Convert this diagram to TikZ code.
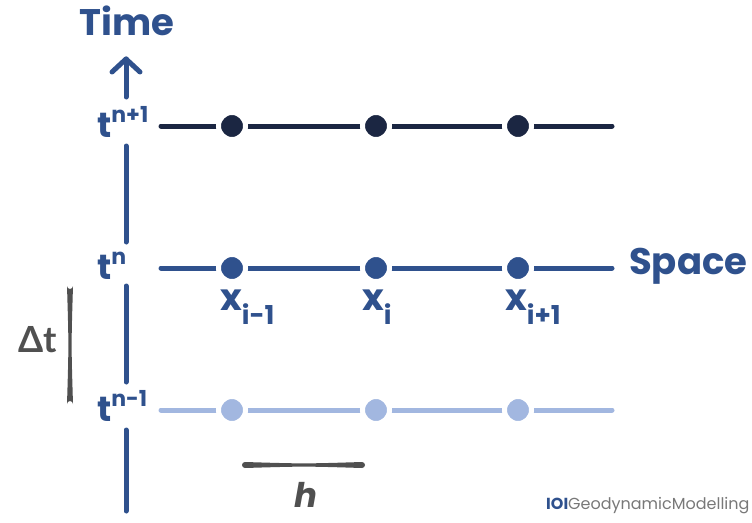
\documentclass[tikz,border=0pt]{standalone}
\usepackage{fontspec}
\setmainfont{Poppins}
\newfontfamily\latofont{Lato}
\definecolor{mblue}{RGB}{47,81,141}
\definecolor{navy}{RGB}{27,38,66}
\definecolor{lblue}{RGB}{162,183,224}
\definecolor{dgray}{RGB}{80,80,80}
\definecolor{wgray}{RGB}{120,120,120}
\begin{document}
\begin{tikzpicture}[x=1pt,y=-1pt,
  axisline/.style={mblue,line width=5pt,line cap=round},
  gridline/.style={line width=5pt,line cap=round},
  dot/.style={circle,minimum size=27pt,inner sep=0pt,draw=white,line width=5pt},
  tlab/.style={mblue,font=\bfseries\fontsize{35}{35}\selectfont,inner sep=0pt},
  xlab/.style={mblue,font=\bfseries\fontsize{37}{37}\selectfont,inner sep=0pt},
  bigword/.style={mblue,font=\bfseries\fontsize{37}{37}\selectfont,inner sep=0pt}]
\useasboundingbox (0,0) rectangle (752,522);
% title labels
\node[bigword] (time) at (127,21) {Time};
\node[bigword,anchor=west] (space) at (629,266) {Space};
% time axis
\coordinate (arrbase) at (126,97);
\coordinate (arrtip) at (126,59);
\draw[axisline,line join=round] (arrbase) -- (arrtip);
\draw[axisline,line join=round] (112,72) -- (arrtip) -- (140,72);
\coordinate (a1) at (126,146); \coordinate (a2) at (126,242);
\coordinate (a3) at (126,286); \coordinate (a4) at (126,382);
\coordinate (a5) at (126,430); \coordinate (a6) at (126,511);
\draw[axisline] (a1) -- (a2);
\draw[axisline] (a3) -- (a4);
\draw[axisline] (a5) -- (a6);
% time labels
\node[tlab,anchor=base west] (tnp) at (97,137) {t\raisebox{0.42em}{\fontsize{22}{22}\selectfont n+1}};
\node[tlab,anchor=base west] (tn) at (97,279) {t\raisebox{0.42em}{\fontsize{22}{22}\selectfont n}};
\node[tlab,anchor=base west] (tnm) at (97,421) {t\raisebox{0.42em}{\fontsize{22}{22}\selectfont n-1}};
% grid lines
\coordinate (l1s) at (161,126); \coordinate (l1e) at (612,126);
\coordinate (l2s) at (161,268); \coordinate (l2e) at (612,268);
\coordinate (l3s) at (161,410); \coordinate (l3e) at (612,410);
\draw[gridline,navy] (l1s) -- (l1e);
\draw[gridline,mblue] (l2s) -- (l2e);
\draw[gridline,lblue] (l3s) -- (l3e);
\foreach \x/\n in {232/a,376/b,518/c}{
  \node[dot,fill=navy] (d1\n) at (\x,126) {};
  \node[dot,fill=mblue] (d2\n) at (\x,268) {};
  \node[dot,fill=lblue] (d3\n) at (\x,410) {};
}
% x labels
\node[xlab,anchor=base west] (xa) at (220,310) {x\raisebox{-0.4em}{\fontsize{26}{26}\selectfont i-1}};
\node[xlab,anchor=base west] (xb) at (362,310) {x\raisebox{-0.4em}{\fontsize{26}{26}\selectfont i}};
\node[xlab,anchor=base west] (xc) at (505,310) {x\raisebox{-0.4em}{\fontsize{26}{26}\selectfont i+1}};
% delta t bracket
\fill[dgray] (67,286) .. controls (68.8,345) .. (67,404) arc[start angle=180,end angle=360,radius=3]
  .. controls (71.2,345) .. (73,286) arc[start angle=0,end angle=180,radius=3] -- cycle;
\node[dgray,font=\latofont\bfseries\fontsize{36}{36}\selectfont,inner sep=0pt] (dt) at (38,340) {Δt};
% h bracket
\fill[dgray] (245,462) .. controls (304,463.8) .. (362,462) arc[start angle=-90,end angle=90,radius=3]
  .. controls (304,466.2) .. (245,468) arc[start angle=90,end angle=270,radius=3] -- cycle;
\node[dgray,font=\bfseries\itshape\fontsize{34}{34}\selectfont,inner sep=0pt] (h) at (306,495) {h};
% watermark
\node[anchor=base west,inner sep=0pt,font=\fontsize{16}{16}\selectfont] (wm) at (546,509)
  {\textcolor{mblue}{\bfseries IOI}\textcolor{wgray}{GeodynamicModelling}};
\end{tikzpicture}
\end{document}
